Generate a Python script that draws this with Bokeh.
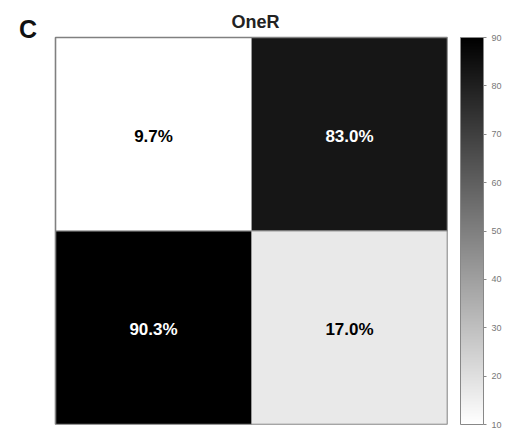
from bokeh.plotting import figure
from bokeh.models import (ColumnDataSource, LinearColorMapper, ColorBar, FixedTicker,
                          Label, Range1d)
from bokeh.core.properties import value
from bokeh.embed import file_html
from bokeh.resources import INLINE

# Data
col_pos = [0.5, 1.5, 0.5, 1.5]
row_pos = [1.5, 1.5, 0.5, 0.5]
values = [9.7, 83.0, 90.3, 17.0]
labels = ["9.7%", "83.0%", "90.3%", "17.0%"]
cbar_ticks = [10, 20, 30, 40, 50, 60, 70, 80, 90]
title_text = "OneR"
panel_letter = "C"

palette = ["#%02x%02x%02x" % (v, v, v) for v in range(255, -1, -1)]
mapper = LinearColorMapper(palette=palette, low=10, high=90)

text_colors = ["black" if v < 50 else "white" for v in values]
src = ColumnDataSource(dict(x=col_pos, y=row_pos, v=values, lab=labels, tc=text_colors))

# frame covers canvas from top-left; heatmap occupies data 0..2 x 0..2
p = figure(width=514, height=441, output_backend="svg", toolbar_location=None,
           x_range=Range1d(-55 / 196, 2), y_range=Range1d(0, 2 + 37 / 193.5),
           min_border_left=0, min_border_top=0, min_border_bottom=17, min_border_right=67)
p.axis.visible = False
p.grid.visible = False
p.outline_line_color = None
p.background_fill_color = "white"
p.border_fill_color = "white"

p.rect(x="x", y="y", width=1, height=1, source=src,
       fill_color={"field": "v", "transform": mapper}, line_color="#999999", line_width=1)
p.rect(x=[1], y=[1], width=2, height=2, fill_color=None, line_color="#808080", line_width=1.6)
p.text(x="x", y="y", text="lab", source=src, text_color="tc",
       text_align="center", text_baseline="middle", y_offset=2,
       text_font=value("Liberation Sans"), text_font_size="17px", text_font_style="bold")

p.add_layout(Label(x=(255 - 55) / 196, y=(424 - 21.5) / 193.5, text=title_text,
                   text_font="Liberation Sans",
                   text_font_size="18px", text_font_style="bold", text_color="#222222",
                   text_align="center", text_baseline="middle"))
p.add_layout(Label(x=-27.5 / 196, y=(424 - 28) / 193.5, text=panel_letter,
                   text_font="Liberation Sans",
                   text_font_size="25px", text_font_style="bold", text_color="#111111",
                   text_align="center", text_baseline="middle"))

cb = ColorBar(color_mapper=mapper, ticker=FixedTicker(ticks=cbar_ticks), width=23,
              height=387, padding=0, margin=0, location=(13, 0),
              bar_line_color="#888888", major_tick_in=0, major_tick_out=3,
              major_tick_line_color="#888888",
              major_label_text_font_size="9px", major_label_text_color="#777777",
              major_label_text_font="Liberation Sans")
p.add_layout(cb, "right")

open("out.html", "w").write(file_html(p, INLINE))
